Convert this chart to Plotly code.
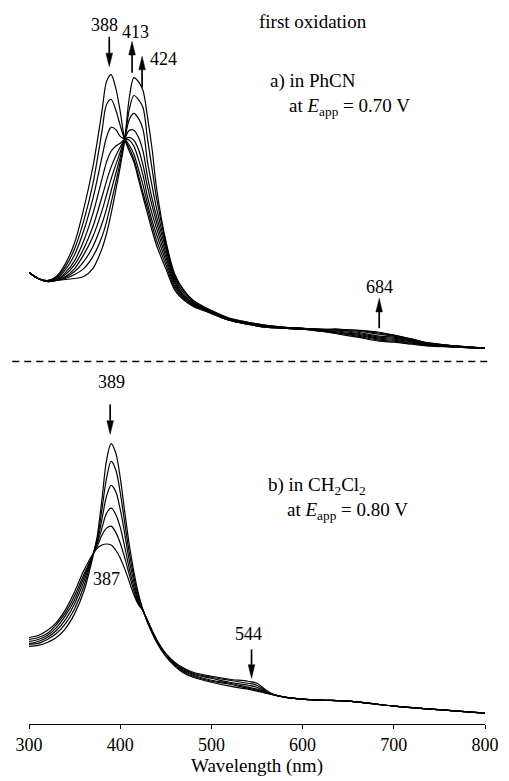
import plotly.graph_objects as go

# ---------------- panel a: PhCN, E_app = 0.70 V ----------------
wavelength_a = [300, 310, 320, 330, 340, 350, 360, 370, 380, 385, 390, 395, 400, 405,
                410, 415, 420, 425, 430, 435, 440, 450, 460, 470, 480, 500, 520, 540,
                560, 580, 600, 620, 640, 660, 684, 700, 720, 740, 770, 800]

phcn_0 = [0.405, 0.375, 0.365, 0.385, 0.450, 0.555, 0.725, 0.935, 1.215, 1.365, 1.400, 1.335,
          1.215, 1.075, 1.015, 0.960, 0.875, 0.785, 0.700, 0.615, 0.540, 0.425, 0.315, 0.265,
          0.235, 0.200, 0.165, 0.145, 0.130, 0.125, 0.120, 0.110, 0.095, 0.080, 0.060, 0.055,
          0.045, 0.035, 0.030, 0.025]
phcn_1 = [0.405, 0.375, 0.365, 0.380, 0.435, 0.525, 0.665, 0.850, 1.115, 1.250, 1.275, 1.225,
          1.145, 1.075, 1.030, 0.975, 0.895, 0.805, 0.725, 0.640, 0.565, 0.445, 0.325, 0.270,
          0.240, 0.200, 0.165, 0.145, 0.130, 0.125, 0.120, 0.110, 0.100, 0.085, 0.065, 0.060,
          0.050, 0.040, 0.030, 0.025]
phcn_2 = [0.405, 0.375, 0.365, 0.375, 0.420, 0.495, 0.615, 0.775, 0.985, 1.085, 1.135, 1.125,
          1.090, 1.075, 1.045, 1.000, 0.925, 0.845, 0.750, 0.665, 0.595, 0.465, 0.335, 0.275,
          0.245, 0.200, 0.165, 0.145, 0.130, 0.125, 0.120, 0.115, 0.100, 0.090, 0.070, 0.065,
          0.050, 0.040, 0.030, 0.025]
phcn_3 = [0.405, 0.375, 0.360, 0.370, 0.405, 0.465, 0.565, 0.700, 0.875, 0.960, 1.015, 1.040,
          1.055, 1.075, 1.070, 1.040, 0.975, 0.895, 0.785, 0.700, 0.625, 0.485, 0.345, 0.280,
          0.250, 0.205, 0.165, 0.145, 0.135, 0.125, 0.120, 0.115, 0.105, 0.095, 0.075, 0.070,
          0.055, 0.040, 0.030, 0.025]
phcn_4 = [0.405, 0.375, 0.360, 0.370, 0.395, 0.445, 0.525, 0.635, 0.785, 0.865, 0.935, 0.990,
          1.035, 1.075, 1.085, 1.070, 1.025, 0.945, 0.835, 0.740, 0.655, 0.505, 0.355, 0.285,
          0.250, 0.205, 0.170, 0.150, 0.135, 0.125, 0.120, 0.115, 0.110, 0.100, 0.080, 0.075,
          0.060, 0.045, 0.030, 0.025]
phcn_5 = [0.405, 0.375, 0.360, 0.370, 0.385, 0.425, 0.495, 0.585, 0.715, 0.795, 0.875, 0.945,
          1.010, 1.075, 1.120, 1.120, 1.085, 1.015, 0.885, 0.775, 0.685, 0.525, 0.365, 0.290,
          0.255, 0.205, 0.170, 0.150, 0.135, 0.130, 0.125, 0.120, 0.115, 0.105, 0.085, 0.080,
          0.060, 0.045, 0.035, 0.025]
phcn_6 = [0.405, 0.375, 0.360, 0.365, 0.380, 0.410, 0.460, 0.535, 0.650, 0.725, 0.815, 0.900,
          0.985, 1.075, 1.175, 1.205, 1.180, 1.125, 0.960, 0.840, 0.725, 0.540, 0.375, 0.300,
          0.260, 0.210, 0.170, 0.150, 0.135, 0.130, 0.125, 0.120, 0.115, 0.110, 0.095, 0.085,
          0.065, 0.045, 0.035, 0.025]
phcn_7 = [0.405, 0.375, 0.360, 0.365, 0.375, 0.395, 0.425, 0.485, 0.585, 0.660, 0.755, 0.855,
          0.960, 1.075, 1.225, 1.295, 1.275, 1.235, 1.075, 0.925, 0.775, 0.555, 0.385, 0.310,
          0.265, 0.210, 0.175, 0.155, 0.140, 0.130, 0.125, 0.120, 0.120, 0.115, 0.100, 0.090,
          0.070, 0.050, 0.035, 0.025]
phcn_8 = [0.405, 0.375, 0.360, 0.365, 0.370, 0.375, 0.385, 0.425, 0.525, 0.600, 0.700, 0.815,
          0.935, 1.075, 1.285, 1.385, 1.365, 1.320, 1.185, 1.025, 0.825, 0.565, 0.395, 0.315,
          0.265, 0.215, 0.175, 0.155, 0.140, 0.130, 0.125, 0.120, 0.120, 0.115, 0.105, 0.090,
          0.070, 0.050, 0.035, 0.025]

phcn_scans = [phcn_0, phcn_1, phcn_2, phcn_3, phcn_4, phcn_5, phcn_6, phcn_7, phcn_8]

# ---------------- panel b: CH2Cl2, E_app = 0.80 V ----------------
wavelength_b = [300, 310, 320, 330, 340, 350, 360, 370, 375, 380, 385, 390, 395, 400, 405,
                410, 415, 420, 425, 430, 440, 450, 460, 470, 480, 500, 520, 540, 550, 560,
                570, 580, 600, 620, 650, 680, 700, 740, 770, 800]

dcm_0 = [0.360, 0.365, 0.380, 0.405, 0.450, 0.525, 0.635, 0.810, 0.920, 1.100, 1.295, 1.380,
         1.335, 1.210, 1.035, 0.870, 0.735, 0.625, 0.545, 0.490, 0.395, 0.325, 0.280, 0.250,
         0.230, 0.210, 0.195, 0.185, 0.175, 0.140, 0.115, 0.105, 0.095, 0.090, 0.085, 0.070,
         0.060, 0.045, 0.035, 0.025]
dcm_1 = [0.370, 0.375, 0.395, 0.425, 0.475, 0.550, 0.660, 0.820, 0.905, 1.050, 1.205, 1.290,
         1.250, 1.135, 0.980, 0.830, 0.710, 0.610, 0.540, 0.490, 0.390, 0.320, 0.275, 0.245,
         0.225, 0.205, 0.190, 0.175, 0.165, 0.135, 0.115, 0.105, 0.095, 0.090, 0.085, 0.070,
         0.060, 0.045, 0.035, 0.025]
dcm_2 = [0.375, 0.385, 0.405, 0.440, 0.495, 0.575, 0.685, 0.820, 0.890, 1.000, 1.115, 1.170,
         1.140, 1.050, 0.925, 0.790, 0.685, 0.595, 0.540, 0.485, 0.390, 0.320, 0.270, 0.240,
         0.220, 0.200, 0.180, 0.165, 0.155, 0.130, 0.115, 0.105, 0.095, 0.090, 0.085, 0.070,
         0.060, 0.045, 0.035, 0.025]
dcm_3 = [0.385, 0.395, 0.415, 0.455, 0.515, 0.595, 0.705, 0.820, 0.880, 0.955, 1.030, 1.055,
         1.025, 0.960, 0.860, 0.750, 0.660, 0.585, 0.540, 0.485, 0.385, 0.315, 0.265, 0.235,
         0.215, 0.190, 0.175, 0.155, 0.145, 0.130, 0.115, 0.105, 0.095, 0.090, 0.085, 0.070,
         0.060, 0.045, 0.035, 0.025]
dcm_4 = [0.395, 0.405, 0.425, 0.470, 0.530, 0.615, 0.720, 0.820, 0.865, 0.920, 0.955, 0.965,
         0.935, 0.880, 0.805, 0.720, 0.640, 0.575, 0.540, 0.480, 0.385, 0.315, 0.265, 0.230,
         0.210, 0.185, 0.170, 0.150, 0.140, 0.125, 0.115, 0.105, 0.095, 0.090, 0.085, 0.070,
         0.060, 0.045, 0.035, 0.025]
dcm_5 = [0.405, 0.415, 0.440, 0.480, 0.545, 0.635, 0.740, 0.825, 0.855, 0.870, 0.875, 0.870,
         0.845, 0.805, 0.750, 0.685, 0.620, 0.570, 0.540, 0.480, 0.380, 0.310, 0.260, 0.225,
         0.205, 0.180, 0.160, 0.145, 0.135, 0.125, 0.115, 0.105, 0.095, 0.090, 0.085, 0.070,
         0.060, 0.045, 0.035, 0.025]

dcm_scans = [dcm_0, dcm_1, dcm_2, dcm_3, dcm_4, dcm_5]

# band maxima (nm) marked with arrows
bands_a = [388, 413, 424, 684]
bands_b = [389, 544]
band_b_low = 387
x_ticks = [300, 400, 500, 600, 700, 800]

SERIF = "Liberation Serif"
LINE = dict(color="black", width=1.2, shape="spline", smoothing=0.9)
INDENT = "&nbsp;" * 4

fig = go.Figure()
for scan in phcn_scans:
    fig.add_trace(go.Scatter(x=wavelength_a, y=scan, mode="lines", line=LINE,
                             xaxis="x", yaxis="y2", showlegend=False, hoverinfo="skip"))
for scan in dcm_scans:
    fig.add_trace(go.Scatter(x=wavelength_b, y=scan, mode="lines", line=LINE,
                             xaxis="x", yaxis="y", showlegend=False, hoverinfo="skip"))

annotations = []
shapes = []

HEAD_HALF_NM = 3.6     # half width of an arrowhead along the wavelength axis
HEAD_LEN = 0.068       # arrowhead length in absorbance units


def arrow(x, y_tail, y_tip, yref):
    """Vertical arrow drawn as a shaft plus a filled triangular head."""
    sign = 1 if y_tip > y_tail else -1
    y_base = y_tip - sign * HEAD_LEN
    shapes.append(dict(type="line", xref="x", yref=yref, x0=x, x1=x, y0=y_tail, y1=y_base,
                       line=dict(color="black", width=1.7)))
    shapes.append(dict(type="path", xref="x", yref=yref,
                       path=f"M {x - HEAD_HALF_NM},{y_base} L {x + HEAD_HALF_NM},{y_base} "
                            f"L {x},{y_tip} Z",
                       fillcolor="black", line=dict(color="black", width=0.5)))


def label(text, x, y, yref, xanchor="center", size=19):
    annotations.append(dict(x=x, y=y, xref="x", yref=yref, text=text, showarrow=False,
                            xanchor=xanchor, yanchor="middle", align="left",
                            font=dict(family=SERIF, size=size, color="black")))


# panel a arrows and labels
arrow(bands_a[0], 1.59, 1.44, "y2")
label(str(bands_a[0]), 383, 1.65, "y2", size=18)
arrow(bands_a[1], 1.41, 1.567, "y2")
label(str(bands_a[1]), 416.5, 1.615, "y2", size=18)
arrow(bands_a[2], 1.335, 1.492, "y2")
label(str(bands_a[2]), 448, 1.48, "y2", size=18)
arrow(bands_a[3], 0.125, 0.275, "y2")
label(str(bands_a[3]), bands_a[3], 0.33, "y2", size=18)

label("first oxidation", 549.5, 1.665, "y2", "left")
label("a) in PhCN<br>" + INDENT + "at <i>E</i><sub>app</sub> = 0.70 V", 562, 1.30, "y2", "left")

# panel b arrows and labels
arrow(bands_b[0], 1.577, 1.427, "y")
label(str(bands_b[0]), 391, 1.69, "y", size=18)
arrow(bands_b[1], 0.345, 0.20, "y")
label(str(bands_b[1]), bands_b[1] - 3, 0.42, "y", size=18)
label(str(band_b_low), 385, 0.70, "y", size=18)

label("b) in CH<sub>2</sub>Cl<sub>2</sub><br>" + INDENT + "at <i>E</i><sub>app</sub> = 0.80 V",
      560, 1.105, "y", "left")

# dashed separator between the two panels
shapes.append(dict(type="line", xref="paper", yref="paper", x0=-0.0367, x1=1.0108,
                   y0=0.5077, y1=0.5077,
                   line=dict(color="black", width=1.3, dash="7px,5px")))

fig.update_layout(
    width=509, height=781,
    margin=dict(l=29, r=17, t=10, b=53),
    paper_bgcolor="white", plot_bgcolor="white",
    font=dict(family=SERIF, size=19, color="black"),
    showlegend=False,
    xaxis=dict(range=[300, 800], tickvals=x_ticks, ticks="outside", ticklen=4,
               tickwidth=1, tickcolor="black", showline=True, linecolor="black",
               linewidth=1, showgrid=False, zeroline=False, anchor="y",
               tickfont=dict(family=SERIF, size=18),
               title=dict(text="Wavelength (nm)", font=dict(family=SERIF, size=19),
                          standoff=3)),
    yaxis=dict(domain=[0, 0.4986], range=[-0.03, 1.76], visible=False, anchor="x"),
    yaxis2=dict(domain=[0.5097, 1.0], range=[-0.035, 1.725], visible=False, anchor="x"),
    annotations=annotations,
    shapes=shapes,
)

fig.write_html("out.html")
